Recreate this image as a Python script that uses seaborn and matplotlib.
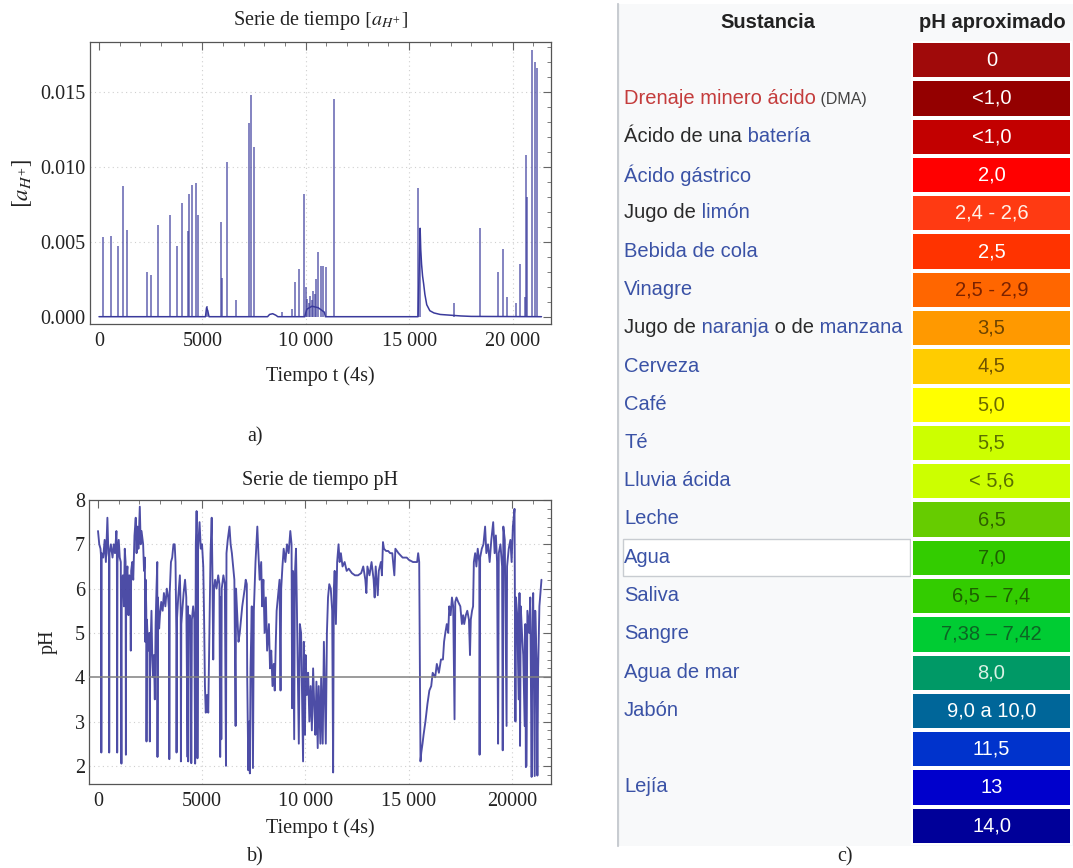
import numpy as np
import matplotlib
matplotlib.use("Agg")
import matplotlib.pyplot as plt
import seaborn as sns
from matplotlib.colors import ListedColormap
from matplotlib.patches import Rectangle
from matplotlib.offsetbox import TextArea, HPacker, AnnotationBbox
from matplotlib.ticker import MultipleLocator, FixedLocator, FixedFormatter

# ---------------- DATA ----------------
# a) [a_H+] time series: narrow spikes (time, height)
spike_t = [186, 558, 930, 1153, 1358, 2325, 2511, 2864, 3441, 3776, 3999, 4315, 4352, 4501,
           4687, 4799, 5208, 5896, 5950, 6175, 6640, 7254, 7328, 7477, 8835, 9337, 9467, 9690,
           9895, 9988, 10080, 10150, 10220, 10290, 10360, 10430, 10509, 10602, 10732, 10844,
           10993, 11346, 15438, 15531, 17168, 18414, 19307, 19530, 19716, 20144, 20367, 20590,
           20646, 20700, 20925, 21074, 21204]
spike_h = [0.0053, 0.0054, 0.0047, 0.0087, 0.0058, 0.0030, 0.0028, 0.0061, 0.0068, 0.0047,
           0.0076, 0.0057, 0.0082, 0.0088, 0.0089, 0.0068, 0.0007, 0.0063, 0.0026, 0.0103,
           0.0011, 0.0129, 0.0148, 0.0113, 0.0003, 0.0005, 0.0023, 0.0032, 0.0082, 0.0020,
           0.0012, 0.0009, 0.0014, 0.0011, 0.0017, 0.0015, 0.0025, 0.0043, 0.0034, 0.0034,
           0.0033, 0.0145, 0.0086, 0.0059, 0.0009, 0.0059, 0.0030, 0.0045, 0.0013, 0.0009,
           0.0035, 0.0013, 0.0108, 0.0080, 0.0178, 0.0170, 0.0166]
# a) baseline / slow components (time, value)
base_t = [0, 5150, 5200, 5260, 5320, 8150, 8250, 8400, 8550, 8650, 9950, 10050, 10300, 10600,
          10900, 10950, 15430, 15531, 15560, 15600, 15650, 15700, 15760, 15850, 16000, 16200,
          16500, 17000, 17500, 18000, 21400]
base_v = [0.0, 0.0, 0.0006, 0.0004, 0.0, 0.0, 0.00015, 0.0002, 0.0001, 0.0, 0.0, 0.0005,
          0.0007, 0.0006, 0.0003, 0.0, 0.0, 0.0059, 0.0045, 0.0035, 0.0027, 0.0022, 0.0015,
          0.0008, 0.0004, 0.00025, 0.00015, 0.0001, 0.00005, 0.00002, 0.0]

# b) pH time series (time, pH)
ph_t = [0, 60, 120, 150, 160, 175, 250, 320, 380, 453, 500, 530, 540, 555, 620, 700, 760, 820,
        888, 910, 925, 940, 1000, 1049, 1100, 1130, 1145, 1200, 1250, 1291, 1330, 1345, 1360,
        1420, 1470, 1510, 1560, 1581, 1600, 1650, 1700, 1760, 1820, 1860, 1900, 1950, 2016,
        2060, 2100, 2178, 2220, 2260, 2275, 2300, 2330, 2340, 2360, 2420, 2480, 2500, 2520,
        2580, 2620, 2660, 2700, 2741, 2780, 2822, 2860, 2870, 2890, 2950, 2990, 3050, 3120,
        3180, 3250, 3320, 3386, 3430, 3441, 3460, 3520, 3580, 3640, 3700, 3740, 3780, 3790,
        3810, 3870, 3951, 3990, 4000, 4020, 4080, 4130, 4200, 4260, 4320, 4340, 4352, 4380,
        4420, 4470, 4501, 4530, 4590, 4650, 4687, 4720, 4757, 4790, 4799, 4830, 4900, 4960,
        5020, 5079, 5120, 5160, 5200, 5260, 5320, 5380, 5430, 5486, 5520, 5560, 5600, 5650,
        5720, 5800, 5860, 5896, 5920, 5950, 5970, 6050, 6120, 6175, 6200, 6260, 6344, 6400,
        6460, 6520, 6580, 6640, 6660, 6720, 6780, 6840, 6900, 6960, 7020, 7080, 7128, 7180,
        7200, 7254, 7300, 7328, 7360, 7420, 7477, 7520, 7600, 7688, 7740, 7800, 7875, 7920,
        7980, 8040, 8100, 8160, 8248, 8300, 8360, 8420, 8480, 8528, 8580, 8620, 8700, 8760,
        8808, 8840, 8900, 8960, 9040, 9120, 9200, 9280, 9340, 9367, 9400, 9467, 9500, 9554,
        9600, 9690, 9740, 9800, 9895, 9930, 9988, 10020, 10080, 10140, 10200, 10260, 10320,
        10380, 10440, 10487, 10540, 10602, 10650, 10732, 10767, 10844, 10900, 10993, 11046,
        11100, 11160, 11233, 11300, 11346, 11380, 11420, 11480, 11540, 11607, 11660, 11720,
        11800, 11900, 12000, 12100, 12250, 12400, 12550, 12700, 12800, 12900, 12950, 13000,
        13100, 13200, 13300, 13350, 13400, 13500, 13550, 13650, 13700, 13752, 13800, 13900,
        14000, 14100, 14200, 14300, 14350, 14500, 14600, 14700, 14800, 14900, 15000, 15200,
        15400, 15450, 15500, 15562, 15600, 15660, 15711, 15800, 15898, 15990, 16080, 16150,
        16271, 16350, 16450, 16550, 16645, 16700, 16760, 16831, 16900, 16950, 17018, 17080,
        17140, 17205, 17240, 17298, 17380, 17484, 17560, 17620, 17671, 17750, 17820, 17900,
        17951, 17990, 18050, 18100, 18137, 18200, 18260, 18324, 18400, 18414, 18440, 18520,
        18600, 18680, 18740, 18820, 18900, 18980, 19070, 19140, 19200, 19257, 19307, 19340,
        19420, 19500, 19530, 19560, 19630, 19716, 19740, 19820, 19900, 19960, 20020, 20100,
        20144, 20170, 20230, 20300, 20340, 20367, 20400, 20460, 20520, 20590, 20620, 20646,
        20680, 20720, 20806, 20860, 20925, 20960, 21000, 21074, 21100, 21160, 21204, 21240,
        21300, 21350, 21400]
ph_v = [7.3, 7.0, 6.9, 6.7, 2.3, 6.8, 6.7, 7.1, 6.6, 7.6, 6.8, 6.7, 2.3, 6.8, 7.0, 6.7, 7.0,
        6.8, 7.3, 6.9, 2.3, 6.6, 7.1, 6.7, 6.6, 2.05, 6.0, 6.3, 5.6, 6.9, 6.6, 2.25, 6.2, 6.5,
        5.4, 6.3, 6.0, 4.6, 6.4, 6.6, 6.2, 7.2, 7.6, 6.8, 7.4, 6.9, 7.85, 7.0, 7.3, 7.0, 6.4,
        6.7, 4.8, 6.2, 5.5, 2.55, 5.3, 4.6, 5.0, 2.55, 4.4, 5.5, 4.4, 4.0, 4.5, 3.5, 5.2, 6.0,
        6.6, 2.2, 5.8, 5.1, 5.4, 5.7, 5.5, 5.9, 5.6, 6.0, 5.8, 5.5, 2.15, 5.9, 6.6, 6.7, 7.0,
        7.0, 6.6, 5.0, 2.3, 5.3, 5.8, 6.3, 5.5, 2.1, 5.2, 5.6, 5.9, 6.2, 5.8, 2.2, 5.6, 2.1,
        5.0, 5.4, 5.1, 2.06, 5.3, 5.6, 5.3, 2.05, 7.0, 7.75, 6.8, 2.17, 6.9, 7.5, 6.9, 7.0,
        6.5, 5.3, 3.8, 3.2, 3.6, 3.2, 5.2, 6.8, 7.6, 6.4, 4.4, 6.0, 6.2, 6.0, 6.3, 6.1, 2.2,
        5.8, 2.6, 6.0, 6.3, 6.1, 2.0, 6.8, 7.1, 7.4, 7.0, 6.8, 6.5, 6.2, 2.9, 6.0, 5.4, 4.8,
        5.0, 5.3, 5.6, 5.8, 6.0, 6.2, 6.1, 4.0, 1.9, 3.0, 1.83, 4.2, 5.6, 1.95, 5.5, 6.6, 7.4,
        6.8, 6.2, 6.6, 5.6, 6.2, 5.0, 5.8, 4.6, 5.2, 4.2, 4.6, 3.8, 4.3, 3.7, 4.8, 5.5, 5.9,
        6.2, 3.7, 6.0, 6.5, 6.9, 6.6, 7.0, 6.8, 7.3, 7.0, 3.3, 6.4, 2.6, 6.3, 6.9, 5.5, 2.5,
        5.2, 5.0, 2.1, 4.8, 2.7, 4.5, 3.6, 4.1, 3.0, 3.8, 2.8, 4.2, 3.3, 2.7, 3.9, 2.4, 3.8,
        2.5, 4.0, 2.5, 4.8, 2.5, 5.0, 5.8, 6.1, 6.0, 5.5, 1.85, 6.0, 6.4, 5.2, 6.6, 7.0, 6.6,
        6.8, 6.5, 6.6, 6.4, 6.45, 6.35, 6.3, 6.3, 6.35, 6.5, 6.2, 5.9, 6.5, 6.3, 6.6, 6.2, 5.8,
        6.5, 5.85, 6.4, 6.6, 6.3, 7.05, 6.9, 6.85, 6.85, 6.8, 6.8, 6.3, 6.9, 6.8, 6.75, 6.7,
        6.7, 6.7, 6.65, 6.6, 6.6, 6.8, 6.6, 2.1, 2.3, 2.5, 2.7, 3.0, 3.4, 3.7, 3.8, 4.1, 4.0,
        4.3, 4.1, 4.4, 4.4, 4.8, 5.0, 5.2, 5.0, 5.6, 5.4, 5.8, 5.6, 3.05, 5.7, 5.8, 5.7, 5.6,
        5.2, 5.4, 5.2, 5.4, 5.5, 5.3, 4.5, 5.3, 5.5, 5.6, 6.6, 6.8, 6.5, 6.9, 6.6, 2.25, 6.7,
        6.9, 7.0, 7.4, 6.8, 7.0, 6.6, 7.1, 7.5, 6.8, 7.2, 6.6, 2.5, 6.8, 7.0, 6.5, 2.35, 7.4,
        7.1, 2.9, 6.5, 6.9, 7.1, 6.6, 7.4, 7.8, 3.0, 5.8, 5.4, 3.5, 5.9, 2.45, 5.6, 5.0, 4.5,
        2.9, 5.2, 1.97, 2.0, 5.5, 5.0, 5.8, 1.75, 4.9, 5.9, 1.77, 5.5, 4.4, 1.78, 4.2, 5.6,
        5.9, 6.2]
ph_ref = 4.0

# c) pH table
sustancias = ["", "Drenaje minero ácido (DMA)", "Ácido de una batería", "Ácido gástrico",
              "Jugo de limón", "Bebida de cola", "Vinagre", "Jugo de naranja o de manzana",
              "Cerveza", "Café", "Té", "Lluvia ácida", "Leche", "Agua", "Saliva", "Sangre",
              "Agua de mar", "Jabón", "", "Lejía", ""]
ph_aprox = ["0", "<1,0", "<1,0", "2,0", "2,4 - 2,6", "2,5", "2,5 - 2,9", "3,5", "4,5", "5,0",
            "5,5", "< 5,6", "6,5", "7,0", "6,5 – 7,4", "7,38 – 7,42", "8,0", "9,0 a 10,0",
            "11,5", "13", "14,0"]

# ---------------- STYLE ----------------
sns.set_style("white")
plt.rcParams['font.family'] = ['Liberation Serif', 'DejaVu Serif']
plt.rcParams['mathtext.fontset'] = 'stix'

W, H = 1073, 868
fig = plt.figure(figsize=(W / 100, H / 100), dpi=100)
fig.patch.set_facecolor('white')

LINE = '#3a3a9c'
FS = 14.5
GRID = dict(color='#cfcfcf', lw=0.8, ls=(0, (1, 3)), zorder=0)


def frac(l, t, r, b):
    return [l / W, 1 - b / H, (r - l) / W, (b - t) / H]


def style_axes(ax):
    for s in ax.spines.values():
        s.set_color('#555555')
        s.set_linewidth(0.9)
    ax.tick_params(which='both', direction='in', top=True, right=True, colors='#666666',
                   labelcolor='#222222', labelsize=FS)
    ax.tick_params(which='major', length=5.5, width=0.8)
    ax.tick_params(which='minor', length=3, width=0.6)
    ax.tick_params(axis='x', pad=6)
    ax.tick_params(axis='y', pad=3)


# ---------- panel a ----------
axa = fig.add_axes(frac(90, 42, 551, 324))
axa.set_xlim(-435, 21860)
axa.set_ylim(-0.000487, 0.01833)
for g in [5000, 10000, 15000, 20000]:
    axa.axvline(g, **GRID)
for g in [0.005, 0.010, 0.015]:
    axa.axhline(g, **GRID)
sns.lineplot(x=base_t, y=base_v, ax=axa, color=LINE, lw=1.1, sort=False, estimator=None)
axa.vlines(spike_t, 0, spike_h, color=LINE, lw=1.1, alpha=0.8)
axa.xaxis.set_major_locator(FixedLocator([0, 5000, 10000, 15000, 20000]))
axa.xaxis.set_major_formatter(FixedFormatter(['0', '5000', '10 000', '15 000', '20 000']))
axa.xaxis.set_minor_locator(MultipleLocator(1000))
axa.yaxis.set_major_locator(FixedLocator([0, 0.005, 0.010, 0.015]))
axa.yaxis.set_major_formatter(FixedFormatter(['0.000', '0.005', '0.010', '0.015']))
axa.yaxis.set_minor_locator(MultipleLocator(0.001))
style_axes(axa)
axa.set_xlabel('Tiempo t (4s)', fontsize=FS, color='#222222')
axa.xaxis.set_label_coords(0.5, -0.15)
axa.set_ylabel(r'$[a_{H^{+}}]$', fontsize=16.5, color='#222222')
axa.yaxis.set_label_coords(-0.122, 0.5)
axa.text(0.5, 1.078, r'Serie de tiempo $[a_{H^{+}}]$', transform=axa.transAxes,
         ha='center', va='center', fontsize=FS, color='#222222')

# ---------- panel b ----------
axb = fig.add_axes(frac(89, 500, 551, 784))
axb.set_xlim(-435, 21860)
axb.set_ylim(1.59, 8.0)
for g in [5000, 10000, 15000, 20000]:
    axb.axvline(g, **GRID)
for g in [2, 3, 5, 6, 7]:
    axb.axhline(g, **GRID)
sns.lineplot(x=ph_t, y=ph_v, ax=axb, color=LINE, lw=1.35, sort=False, estimator=None, alpha=0.9)
axb.axhline(ph_ref, color='#808080', lw=1.1, zorder=3)
axb.xaxis.set_major_locator(FixedLocator([0, 5000, 10000, 15000, 20000]))
axb.xaxis.set_major_formatter(FixedFormatter(['0', '5000', '10 000', '15 000', '20000']))
axb.xaxis.set_minor_locator(MultipleLocator(1000))
axb.yaxis.set_major_locator(MultipleLocator(1))
axb.yaxis.set_minor_locator(MultipleLocator(0.2))
style_axes(axb)
axb.set_xlabel('Tiempo t (4s)', fontsize=FS, color='#222222')
axb.xaxis.set_label_coords(0.5, -0.12)
axb.set_ylabel('pH', fontsize=FS, color='#222222')
axb.yaxis.set_label_coords(-0.067, 0.5)
axb.text(0.5, 1.067, 'Serie de tiempo pH', transform=axb.transAxes,
         ha='center', va='center', fontsize=FS, color='#222222')

fig.text(255 / W, 1 - 437 / H, 'a)', ha='center', va='center', fontsize=FS, color='#222222')
fig.text(255 / W, 1 - 857 / H, 'b)', ha='center', va='center', fontsize=FS, color='#222222')
fig.text(845 / W, 1 - 857 / H, 'c)', ha='center', va='center', fontsize=FS, color='#222222')

# ---------- panel c: table ----------
SANS = ['Liberation Sans', 'DejaVu Sans']
axt = fig.add_axes([617 / W, 0, (W - 617) / W, 1])
axt.set_xlim(617, W)
axt.set_ylim(H, 0)
axt.axis('off')
axt.add_patch(Rectangle((617, 4), W - 617, 842, fc='#f8f9fa', ec='none', zorder=0))
axt.plot([617.5, 617.5], [4, 846], color='#c8ccd1', lw=1.6, zorder=1)
axt.text(768, 22, 'Sustancia', ha='center', va='center', fontsize=FS, fontweight='bold',
         family=SANS, color='#222222')
axt.text(992, 22, 'pH aproximado', ha='center', va='center', fontsize=FS, fontweight='bold',
         family=SANS, color='#222222')

ROW0, PITCH = 60, 38.25
RED, BLUE, BLK = '#c43c3c', '#3a52a6', '#2a2a2a'
link_rows = {3, 5, 6, 8, 9, 10, 11, 12, 13, 14, 15, 16, 17, 19}
segments = {
    1: [("Drenaje minero ácido", RED, FS), (" (DMA)", '#444444', 11.5)],
    2: [("Ácido de una", BLK, FS), (" batería", BLUE, FS)],
    4: [("Jugo de", BLK, FS), (" limón", BLUE, FS)],
    7: [("Jugo de", BLK, FS), (" naranja", BLUE, FS), (" o de", BLK, FS),
        (" manzana", BLUE, FS)],
}
axt.add_patch(Rectangle((622.7, ROW0 + 13 * PITCH - 18.5), 287, 37, fc='white',
                        ec='#c8ccd1', lw=1.0, zorder=1))
for i, name in enumerate(sustancias):
    if not name:
        continue
    y = ROW0 + i * PITCH
    segs = segments.get(i, [(name, BLUE if i in link_rows else BLK, FS)])
    boxes = [TextArea(s, textprops=dict(color=c, fontsize=f, family=SANS)) for s, c, f in segs]
    pack = HPacker(children=boxes, align='baseline', pad=0, sep=0)
    ab = AnnotationBbox(pack, (624, y), xycoords='data', box_alignment=(0, 0.5),
                        frameon=False, pad=0, annotation_clip=False, zorder=3)
    axt.add_artist(ab)

cell_colors = ['#a00a0a', '#940000', '#c20000', '#ff0000', '#ff3a12', '#ff3300', '#ff6600',
               '#ff9900', '#ffcc00', '#ffff00', '#ccff00', '#ccff00', '#66cc00', '#33cc00',
               '#33cc00', '#00cc33', '#009966', '#006699', '#0033cc', '#0000cc', '#000099']
text_colors = ['white', 'white', 'white', 'white', '#fff2e8', 'white', '#7a2200', '#6e4400',
               '#6e5200', '#6a6a00', '#5a7000', '#5a7000', '#2f5f00', '#1d6000', '#1d6000',
               '#0d6424', '#d8f2e4', 'white', 'white', 'white', 'white']
axh = fig.add_axes(frac(911.2, 41, 1071.8, 845))
mat = np.arange(len(ph_aprox)).reshape(-1, 1)
annot = np.array(ph_aprox, dtype=object).reshape(-1, 1)
sns.heatmap(mat, ax=axh, cmap=ListedColormap(cell_colors), annot=annot, fmt='', cbar=False,
            linewidths=2.6, linecolor='white', xticklabels=False, yticklabels=False,
            annot_kws={'fontsize': FS, 'family': SANS})
for txt, c in zip(axh.texts, text_colors):
    txt.set_color(c)
axh.set_xlabel('')
axh.set_ylabel('')

fig.savefig('out.png', dpi=100, facecolor='white')
